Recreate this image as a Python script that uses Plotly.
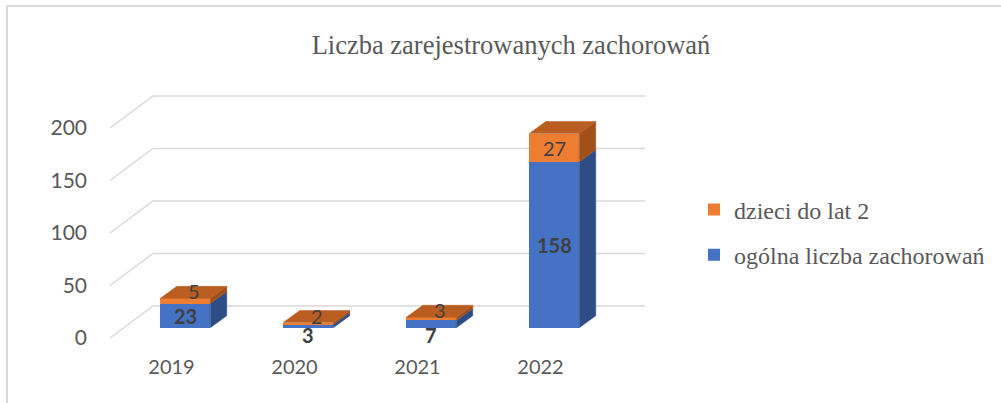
import plotly.graph_objects as go

# ---- data ----
years = ["2019", "2020", "2021", "2022"]
ogolna = [23, 3, 7, 158]
dzieci = [5, 2, 3, 27]
ytick_vals = [0, 50, 100, 150, 200]

title_text = "Liczba zarejestrowanych zachorowań"
name_ogolna = "ogólna liczba zachorowań"
name_dzieci = "dzieci do lat 2"

# ---- style / geometry ----
BLUE = "#4472C4"
BLUE_SIDE = "#2E4D87"
ORANGE = "#ED7D31"
ORANGE_TOP = "#B95D20"
ORANGE_SIDE = "#A0511A"
GRID = "#D9D9D9"
TXT = "#595959"
LBL = "#404040"

L, R, T, B = 100, 660, 70, 351          # plot area in figure px
PX_PER_CAT = 123.0
PX_PER_VAL = 1.05
CAT0_PX = 171.5                          # front centre of first category
ZERO_PX = 338.0                          # front value 0

xr = [(L - CAT0_PX) / PX_PER_CAT, (R - CAT0_PX) / PX_PER_CAT]
yr = [(ZERO_PX - B) / PX_PER_VAL, (ZERO_PX - T) / PX_PER_VAL]

FLOOR_DC, FLOOR_DV = 43 / PX_PER_CAT, 32 / PX_PER_VAL     # floor depth
BAR_DC, BAR_DV = 16.5 / PX_PER_CAT, 12 / PX_PER_VAL       # bar depth
FRONT_FRAC = 0.32                                          # where bar front sits in depth
SHIFT_C, SHIFT_V = FRONT_FRAC * FLOOR_DC, FRONT_FRAC * FLOOR_DV
BAR_W = 50 / PX_PER_CAT

fig = go.Figure()

pos = [i + SHIFT_C for i in range(len(years))]
base_blue = [SHIFT_V] * len(years)
base_orange = [b + v for b, v in zip(base_blue, ogolna)]
tops = [b + v for b, v in zip(base_orange, dzieci)]

fig.add_trace(go.Bar(x=pos, y=ogolna, base=base_blue, width=BAR_W, name=name_ogolna,
                     marker=dict(color=BLUE, line=dict(width=0)), legendgroup="a",
                     legendrank=2, hoverinfo="skip"))
fig.add_trace(go.Bar(x=pos, y=dzieci, base=base_orange, width=BAR_W, name=name_dzieci,
                     marker=dict(color=ORANGE, line=dict(width=0)), legendgroup="b",
                     legendrank=1, hoverinfo="skip"))


def poly(xs, ys, color):
    fig.add_trace(go.Scatter(x=xs + [xs[0]], y=ys + [ys[0]], mode="lines", fill="toself",
                             fillcolor=color, line=dict(width=0.5, color=color),
                             showlegend=False, hoverinfo="skip"))


for i in range(len(years)):
    xl = pos[i] - BAR_W / 2
    xrt = pos[i] + BAR_W / 2
    # side faces
    for b0, b1, col in [(base_blue[i], base_orange[i], BLUE_SIDE),
                        (base_orange[i], tops[i], ORANGE_SIDE)]:
        poly([xrt, xrt + BAR_DC, xrt + BAR_DC, xrt],
             [b0, b0 + BAR_DV, b1 + BAR_DV, b1], col)
    # top face
    t = tops[i]
    poly([xl, xl + BAR_DC, xrt + BAR_DC, xrt], [t, t + BAR_DV, t + BAR_DV, t], ORANGE_TOP)

# gridlines (floor diagonal + back wall) as shapes below traces
shapes = []
for tv in ytick_vals:
    x0 = -0.5
    path = "M {a},{b} L {c},{d} L {e},{d}".format(
        a=x0, b=tv, c=x0 + FLOOR_DC, d=tv + FLOOR_DV, e=len(years) - 0.5 + FLOOR_DC)
    shapes.append(dict(type="path", path=path, xref="x", yref="y", layer="below",
                       line=dict(color=GRID, width=1.5)))

# chart border (top + left visible)
W, H = 1001, 403
def px2paperx(p): return (p - L) / (R - L)
def px2papery(p): return (B - p) / (B - T)
shapes.append(dict(type="rect", xref="paper", yref="paper",
                   x0=px2paperx(7), x1=px2paperx(1015), y0=px2papery(420), y1=px2papery(6),
                   line=dict(color=GRID, width=2), fillcolor="rgba(0,0,0,0)", layer="below"))

# data labels
ann = []
TH = 17  # value units needed for a label to fit on the front face
for i in range(len(years)):
    v = ogolna[i]
    if v >= TH:
        ann.append(dict(x=pos[i], y=base_blue[i] + v / 2, text="<b>%d</b>" % v,
                        yanchor="middle"))
    else:
        ann.append(dict(x=pos[i], y=base_blue[i], text="<b>%d</b>" % v,
                        yanchor="top", yshift=7))
    v = dzieci[i]
    if v >= TH:
        ann.append(dict(x=pos[i], y=base_orange[i] + v / 2, text=str(v), yanchor="middle"))
    else:
        ann.append(dict(x=pos[i] + BAR_DC / 2, y=tops[i] + BAR_DV / 2, text=str(v),
                        yanchor="middle", yshift=1))
for a in ann:
    a.update(xref="x", yref="y", showarrow=False, xanchor="center",
             font=dict(family="Lato", size=20, color=LBL))

fig.update_layout(
    width=W, height=H,
    margin=dict(l=L, r=W - R, t=T, b=H - B, autoexpand=False),
    paper_bgcolor="white", plot_bgcolor="white",
    barmode="overlay", bargap=0,
    title=dict(text=title_text, x=511 / W, xanchor="center", xref="container",
               y=1 - 45 / H, yanchor="middle", yref="container",
               font=dict(family="Liberation Serif", size=26.5, color=TXT)),
    xaxis=dict(range=xr, tickvals=list(range(len(years))), ticktext=years,
               showgrid=False, zeroline=False, showline=False, ticks="",
               tickfont=dict(family="Lato", size=20, color=TXT), ticklabelstandoff=2),
    yaxis=dict(range=yr, tickvals=ytick_vals, showgrid=False, zeroline=False,
               showline=False, ticks="", ticklabelstandoff=12,
               tickfont=dict(family="Lato", size=21, color=TXT)),
    legend=dict(x=px2paperx(694), xanchor="left", y=px2papery(232.5), yanchor="middle",
                traceorder="grouped", tracegroupgap=11,
                font=dict(family="Liberation Serif", size=24, color=TXT),
                bgcolor="rgba(0,0,0,0)"),
    shapes=shapes, annotations=ann,
)

fig.write_html("out.html", post_script="document.body.style.margin='0';",
               config={"displayModeBar": False})
